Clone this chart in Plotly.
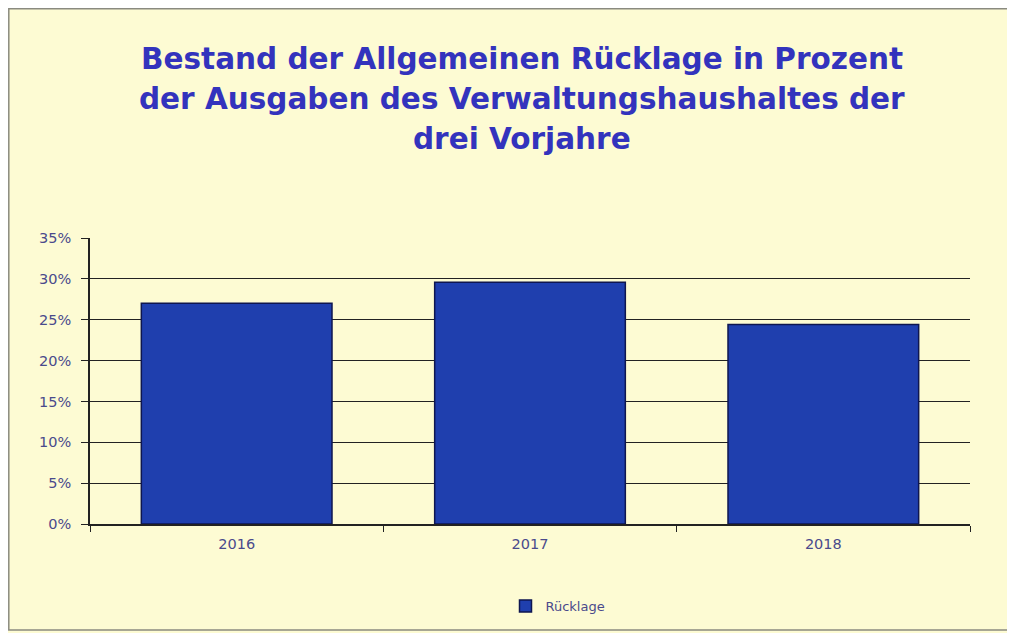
import plotly.graph_objects as go

years = ["2016", "2017", "2018"]
ruecklage = [0.270, 0.296, 0.244]
series_name = "Rücklage"
title_lines = ["Bestand der Allgemeinen Rücklage in Prozent",
               "der Ausgaben des Verwaltungshaushaltes der",
               "drei Vorjahre"]

bg = "#FDFBD3"
tick_color = "#4A4A8C"
title_color = "#3333BD"

# figure pixel geometry (page has an 8px body margin)
L, T, PW, PH = 82, 230, 880, 286
W, H = 1015, 633


def py(fy):
    return (T + PH - fy) / PH


def px(fx):
    return (fx - L) / PW


fig = go.Figure()
fig.add_trace(go.Bar(
    x=years, y=ruecklage, name=series_name,
    marker=dict(color="#1F3FAE", line=dict(color="#0E1650", width=1.5)),
    showlegend=True,
))

title_y = [51, 91, 131]
annotations = [
    dict(text=t, xref="paper", yref="paper", x=px(514), y=py(yy),
         xanchor="center", yanchor="middle", showarrow=False,
         font=dict(family="DejaVu Sans, Arial, sans-serif", size=29.5,
                   color=title_color, weight="bold"))
    for t, yy in zip(title_lines, title_y)
]

fig.update_layout(
    width=W, height=H,
    paper_bgcolor=bg, plot_bgcolor=bg,
    margin=dict(l=L, r=W - L - PW, t=T, b=H - T - PH),
    bargap=0.35,
    font=dict(family="DejaVu Sans, Arial, sans-serif"),
    annotations=annotations,
    legend=dict(
        orientation="h", x=px(550), xanchor="center", y=py(598), yanchor="middle",
        font=dict(size=13, color=tick_color), bgcolor="rgba(0,0,0,0)",
    ),
    xaxis=dict(
        showline=True, linecolor="#222222", linewidth=1.5,
        ticks="outside", tickson="boundaries", ticklen=6, tickcolor="#222222",
        tickfont=dict(size=14.5, color=tick_color),
        ticklabelstandoff=6,
        showgrid=False,
    ),
    yaxis=dict(
        range=[0, 0.35], dtick=0.05, tickformat=".0%",
        showline=True, linecolor="#222222", linewidth=1.5,
        ticks="outside", ticklen=7, tickcolor="#222222",
        tickfont=dict(size=14.5, color=tick_color),
        ticklabelstandoff=7,
        showgrid=True, gridcolor="#222222", gridwidth=1.2,
        zeroline=False,
    ),
    shapes=[dict(
        type="rect", xref="paper", yref="paper",
        x0=px(0.8), x1=px(1004),
        y0=py(622), y1=py(0.8),
        line=dict(color="#8A8A80", width=1.5), fillcolor="rgba(0,0,0,0)",
        layer="below",
    )],
)

fig.write_html("out.html")
